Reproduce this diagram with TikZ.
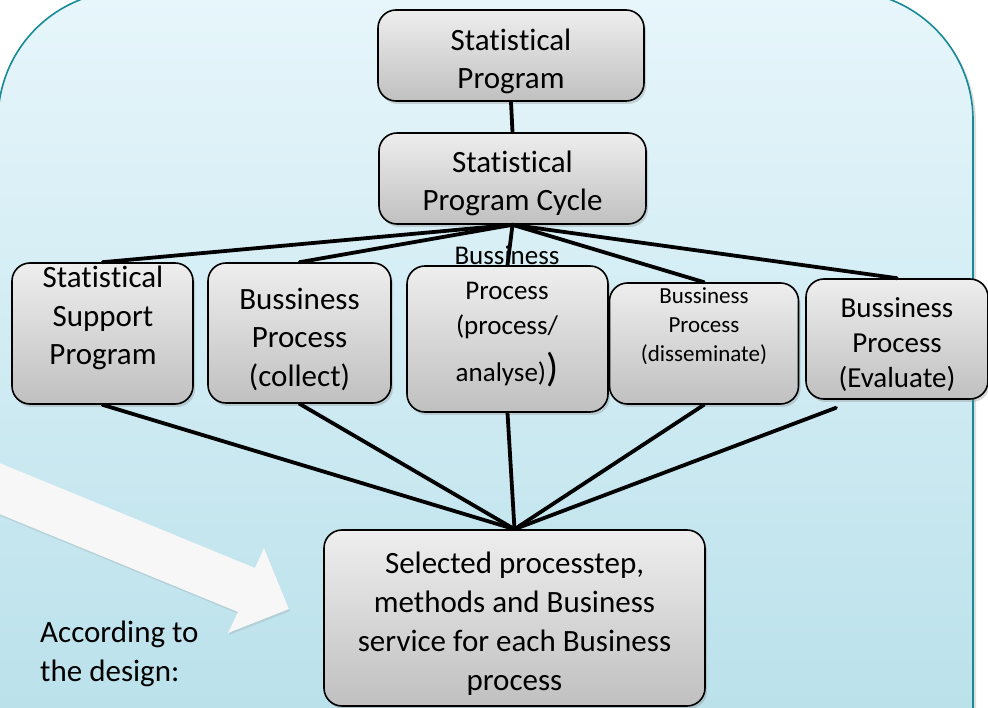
\documentclass[tikz,border=0pt]{standalone}
\usepackage{fontspec}
\setmainfont{Carlito}[Ligatures={NoCommon,NoContextual,NoRequired}]
\usepackage{tikz}
\usetikzlibrary{shadows}

\definecolor{panelline}{HTML}{168A96}
\definecolor{paneltop}{HTML}{E7F6FB}
\definecolor{panelbot}{HTML}{B2DDE8}
\definecolor{boxtop}{HTML}{EEEEEE}
\definecolor{boxbot}{HTML}{C0C0C0}

% t and i apart, no ligature
\newcommand{\stat}{Stat\kern0pt is\kern0pt t\kern0pt ical}

\begin{document}
\begin{tikzpicture}[x=1pt,y=-1pt,
		pbox/.style={draw=black, line width=1.6pt, rounded corners=18pt, top color=boxtop, bottom color=boxbot,
			drop shadow={opacity=0.3, shadow xshift=2pt, shadow yshift=-3pt}, inner sep=0pt},
		ptxt/.style={align=center, inner sep=0pt, font=\fontsize{31}{38.5}\selectfont},
		link/.style={line width=3.8pt, line cap=round}]
				\useasboundingbox (0,0) rectangle (988,708);
				
				% background panel and the big arrow
				\path[draw=panelline, line width=1.6pt, rounded corners=129pt, top color=paneltop, bottom color=panelbot,
					drop shadow={opacity=0.25, shadow xshift=3pt, shadow yshift=-3pt}] (-2,-9) rectangle (973,850);
				\path[fill=white!97!black, drop shadow={opacity=0.2, shadow xshift=1pt, shadow yshift=-2pt}]
					(-20,455) -- (255,568) -- (264,548) -- (289,609) -- (228,633) -- (238,612) -- (-20,506) -- cycle;
				\node[ptxt, align=left, anchor=west] (design) at (40,654) {According to\\the design:};
				
				% boxes
				\node[pbox, minimum width=266pt, minimum height=91pt] (prog) at (511,55.5) {};
				\node[pbox, minimum width=267pt, minimum height=91pt] (cycle) at (512.5,178.5) {};
				\node[pbox, minimum width=181pt, minimum height=141pt] (supp) at (102.5,333.5) {};
				\node[pbox, minimum width=183pt, minimum height=140pt] (coll) at (299.5,333) {};
				\node[pbox, minimum width=201pt, minimum height=146pt] (proc) at (507.5,339) {};
				\node[pbox, minimum width=189pt, minimum height=121pt] (diss) at (704,343.5) {};
				\node[pbox, minimum width=182pt, minimum height=120pt] (eval) at (897,339) {};
				\node[pbox, minimum width=381pt, minimum height=176pt] (sel) at (514.5,618) {};
				
				% texts
				\node[ptxt] (progtxt) at ([yshift=-6pt]prog.center) {\stat\\Program};
				\node[ptxt] (cycletxt) at ([yshift=-5pt]cycle.center) {\stat\\Program Cycle};
				\node[ptxt] (supptxt) at (103,318) {\stat\\Support\\Program};
				\node[ptxt] (colltxt) at ([yshift=-6pt]coll.center) {Bussiness\\Process\\(collect)};
				\node[ptxt, font=\fontsize{27}{35}\selectfont] (proctxt) at (507,316) {Bussiness\\Process\\(process/\\[12pt]analyse){\fontsize{40}{40}\selectfont)}};
				\node[ptxt, font=\fontsize{23}{29}\selectfont] (disstxt) at (704,326) {Bussiness\\Process\\(disseminate)};
				\node[ptxt, font=\fontsize{29}{35}\selectfont] (evaltxt) at ([yshift=-5.5pt]eval.center) {Bussiness\\Process\\(Evaluate)};
				\node[ptxt, font=\fontsize{31}{39}\selectfont] (seltxt) at ([yshift=-6pt]sel.center) {Selected processtep,\\methods and Business\\service for each Business\\process};
				
				% connectors
				\draw[link] (prog.south) -- (cycle.north);
				\foreach \b in {supp, coll, proc, diss, eval}
					\draw[link] (cycle.south) -- (\b.north);
				\foreach \b in {supp, coll, proc, diss}
					\draw[link] (\b.south) -- (sel.north);
				\draw[link] ([xshift=-61pt, yshift=-8pt]eval.south) -- (sel.north);
			\end{tikzpicture}
\end{document}
